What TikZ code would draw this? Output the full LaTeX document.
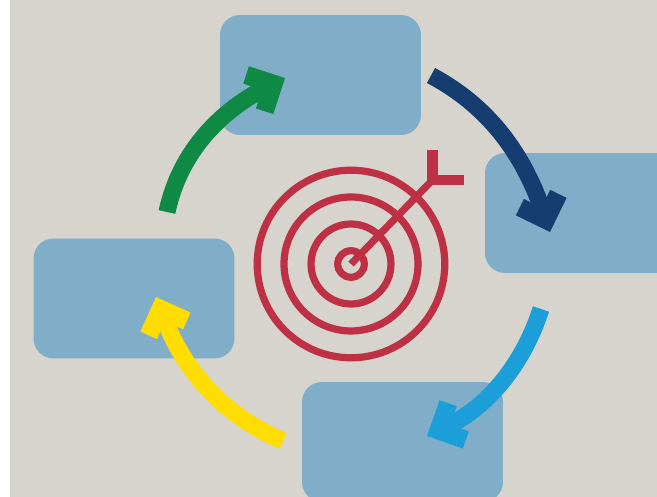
\documentclass[tikz,border=0pt]{standalone}
\usepackage{tikz}
\usetikzlibrary{arrows.meta}
\definecolor{paper}{HTML}{D6D4CC}
\definecolor{boxblue}{HTML}{80ADC8}
\definecolor{targetred}{HTML}{BE3144}
\definecolor{arrowgreen}{HTML}{0F8A44}
\definecolor{arrownavy}{HTML}{163D70}
\definecolor{arrowcyan}{HTML}{1C9FD8}
\definecolor{arrowyellow}{HTML}{FFDD00}
\tikzset{
  stepbox/.style={fill=boxblue, rounded corners=.4cm, minimum width=4.02cm, minimum height=2.4cm, inner sep=0pt},
  ring/.style={draw=targetred, line width=4.1pt},
  bend arrow/.style={line width=9.7pt, looseness=.95, -{Straight Barb[length=11.6pt,width=23.2pt,line width=10.4pt]}},
}
\begin{document}
\begin{tikzpicture}[x=.02cm, y=.02cm]
      \useasboundingbox (0, 0) rectangle (657, 497);
      \fill[paper] (10, 0) rectangle (657, 497);
      % boxes
      \node[stepbox] (top) at (320.5, 422) {};
      \node[stepbox] (right) at (585.5, 284) {};
      \node[stepbox] (bottom) at (402.5, 55) {};
      \node[stepbox] (left) at (134, 198.5) {};
      % target
      \coordinate (centre) at (351, 233);
      \coordinate (fork) at (432.5, 317);
      \coordinate (forktop) at (432.5, 347);
      \coordinate (forkright) at (464, 317);
      \node[ring, circle, minimum size=1.876cm*2, inner sep=0pt] (ringa) at (centre) {};
      \node[ring, circle, minimum size=1.34cm*2, inner sep=0pt] (ringb) at (centre) {};
      \node[ring, circle, minimum size=.8cm*2, inner sep=0pt] (ringc) at (centre) {};
      \node[ring, circle, minimum size=.266cm*2, inner sep=0pt] (ringd) at (centre) {};
      \draw[targetred, line width=4.1pt] (centre) -- (fork);
      \draw[targetred, line width=5.7pt] (forktop) |- (forkright);
      % arrows
      \coordinate (greenstart) at (167, 285);
      \coordinate (greentip) at (285, 419);
      \coordinate (navystart) at (431, 421.5);
      \coordinate (navytip) at (550, 265);
      \coordinate (cyanstart) at (541, 188);
      \coordinate (cyantip) at (427, 61);
      \coordinate (yellowstart) at (283, 56);
      \coordinate (yellowtip) at (156, 200);
      \draw[bend arrow, arrowgreen] (greenstart) to[out=78, in=207] (greentip);
      \draw[bend arrow, arrownavy] (navystart) to[out=-28, in=109] (navytip);
      \draw[bend arrow, arrowcyan] (cyanstart) to[out=252, in=25.6] (cyantip);
      \draw[bend arrow, arrowyellow] (yellowstart) to[out=157, in=290.7] (yellowtip);
\end{tikzpicture}
\end{document}
